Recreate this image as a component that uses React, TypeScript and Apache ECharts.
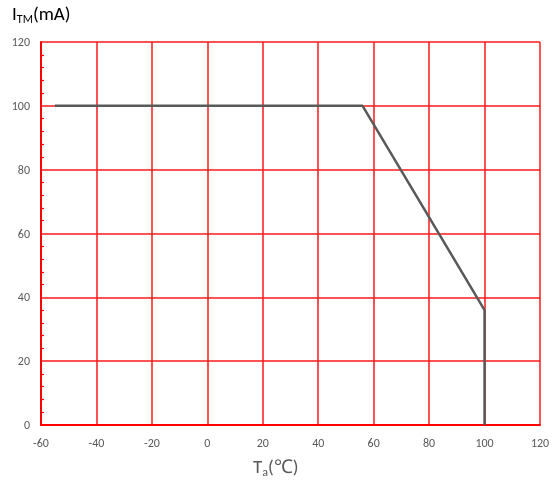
import React, { useEffect, useRef } from "react";
import * as echarts from "echarts";

const xTicks = [-60, -40, -20, 0, 20, 40, 60, 80, 100, 120];
const yTicks = [0, 20, 40, 60, 80, 100, 120];
const curveX = [-55, 56, 100, 100];
const curveY = [100, 100, 36, 0];

export default function App() {
  const ref = useRef<HTMLDivElement>(null);
  useEffect(() => {
    const chart = echarts.init(ref.current!, null, { renderer: "svg" });
    const font = "Carlito, 'Open Sans', 'Liberation Sans', Arial, sans-serif";
    chart.setOption({
      animation: false,
      grid: { left: 41, right: 16, top: 42, bottom: 64 },
      xAxis: {
        type: "value",
        min: xTicks[0],
        max: xTicks[xTicks.length - 1],
        interval: 20,
        axisLine: { show: true, onZero: false, lineStyle: { color: "#ff0000", width: 2 } },
        axisTick: { show: false },
        axisLabel: { color: "#595959", fontSize: 12, fontFamily: font, margin: 12 },
        splitLine: { show: true, lineStyle: { color: "#ff1a1a", width: 1.5 } },
      },
      yAxis: {
        type: "value",
        min: yTicks[0],
        max: yTicks[yTicks.length - 1],
        interval: 20,
        axisLine: { show: true, onZero: false, lineStyle: { color: "#ff0000", width: 2 } },
        axisTick: { show: false, inside: true },
        minorTick: { show: true, splitNumber: 5, length: 3, lineStyle: { color: "#ff0000", width: 1.2 } },
        axisLabel: { color: "#595959", fontSize: 12, fontFamily: font, margin: 11 },
        splitLine: { show: true, lineStyle: { color: "#ff1a1a", width: 1.5 } },
      },
      series: [
        {
          type: "line",
          data: curveX.map((x, i) => [x, curveY[i]]),
          symbol: "none",
          lineStyle: { color: "#595959", width: 2.5 },
        },
      ],
      graphic: [
        {
          type: "text",
          left: 12,
          top: 4,
          style: {
            text: "{m|I}{s|TM}{m|(mA)}",
            rich: {
              m: { fontSize: 19, fill: "#000", fontFamily: font },
              s: { fontSize: 12, fill: "#000", fontFamily: font, padding: [10, 0, 0, 0] },
            },
          },
        },
        {
          type: "text",
          left: 253,
          top: 457,
          style: {
            text: "{m|T}{s|a}{m|(℃)}",
            rich: {
              m: { fontSize: 19, fill: "#595959", fontFamily: font },
              s: { fontSize: 12, fill: "#595959", fontFamily: font, padding: [10, 0, 0, 0] },
            },
          },
        },
      ],
    });
    return () => chart.dispose();
  }, []);
  return <div ref={ref} style={{ position: "fixed", left: 0, top: 0, width: 556, height: 489 }} />;
}
